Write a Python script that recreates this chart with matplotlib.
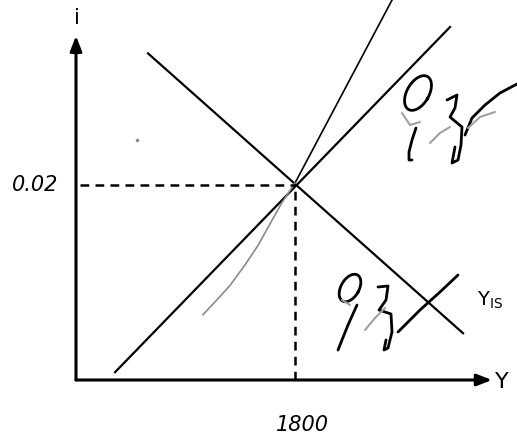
import numpy as np
import matplotlib
matplotlib.use("Agg")
from matplotlib import pyplot as plt

# equilibrium
Y_eq = 1800
i_eq = 0.02

# curves in (Y, i) units
is_Y = [592, 3181]
is_i = [0.0335, 0.0048]

lm_Y = [321, 3074]
lm_i = [0.0008, 0.0362]

steep_Y = [1800, 2620]
steep_i = [0.0202, 0.0395]

gray_Y = [1044, 1142, 1266, 1389, 1496, 1594, 1693, 1800]
gray_i = [0.0067, 0.0080, 0.0097, 0.0118, 0.0138, 0.0160, 0.0182, 0.0202]

Y_tip = 3419
i_tip = 0.0353

fig = plt.figure(figsize=(5.17, 4.36), dpi=100)
ax = fig.add_axes([0, 0, 1, 1])
ax.set_xlim(-624.7, 3624.7)
ax.set_ylim(-0.005744, 0.038974)
ax.axis("off")

# axes with arrows
ax.annotate("", xy=(Y_tip, 0), xytext=(0, 0),
            arrowprops=dict(arrowstyle="-|>,head_length=0.9,head_width=0.35", color="black", lw=2.2,
                            shrinkA=0, shrinkB=0))
ax.annotate("", xy=(0, i_tip), xytext=(0, 0),
            arrowprops=dict(arrowstyle="-|>,head_length=0.9,head_width=0.35", color="black", lw=2.2,
                            shrinkA=0, shrinkB=0))

ax.plot(is_Y, is_i, color="black", lw=1.6)
ax.plot(lm_Y, lm_i, color="black", lw=1.6)
ax.plot(steep_Y, steep_i, color="black", lw=1.2)
ax.plot(gray_Y, gray_i, color="#8a8a8a", lw=1.2)

ax.plot([30, Y_eq], [i_eq, i_eq], color="black", lw=1.8, ls=(0, (3.5, 2.5)))
ax.plot([Y_eq, Y_eq], [0, i_eq], color="black", lw=1.8, ls=(0, (3.5, 2.5)))

ax.plot([501], [0.0246], marker="o", ms=1.5, color="#888888")

ax.text(-148, i_eq, "0.02", ha="right", va="center", fontsize=15, style="italic")
ax.text(1860, -0.0046, "1800", ha="center", va="center", fontsize=15, style="italic")
ax.text(8, 0.0371, "i", ha="center", va="center", fontsize=15)
ax.text(3440, -0.0002, "Y", ha="left", va="center", fontsize=16)
ax.text(3300, 0.0082, r"Y$_{\mathrm{IS}}$", ha="left", va="center", fontsize=14)

# handwritten scribbles, drawn in image pixel space
ov = fig.add_axes([0, 0, 1, 1])
ov.set_xlim(0, 517)
ov.set_ylim(436, 0)
ov.axis("off")


def loop(cx, cy, a, b, ang):
    t = np.linspace(0, 2 * np.pi, 60)
    r = np.radians(ang)
    x = a * np.cos(t)
    y = b * np.sin(t)
    return cx + x * np.cos(r) - y * np.sin(r), cy + x * np.sin(r) + y * np.cos(r)


for cx, cy, a, b in [(418, 93, 11, 19), (350, 288, 9, 15)]:
    lx, ly = loop(cx, cy, a, b, 30)
    ov.plot(lx, ly, color="black", lw=2.0)

black_strokes = [
    [(416, 128), (412, 140), (409, 152), (409, 160), (412, 160)],
    [(447, 100), (457, 95), (455, 108), (450, 117), (462, 127), (461, 145), (458, 160), (452, 163), (455, 147)],
    [(465, 135), (472, 118), (485, 105), (500, 93), (517, 84)],
    [(357, 305), (348, 325), (338, 350)],
    [(378, 287), (388, 286), (386, 300), (379, 310), (391, 314), (392, 332), (388, 348), (384, 350), (386, 340)],
    [(398, 332), (420, 310), (440, 292), (458, 275)],
]
gray_strokes = [
    [(402, 113), (410, 125), (420, 122)],
    [(430, 143), (440, 133), (450, 127)],
    [(468, 128), (480, 117), (495, 112)],
    [(342, 300), (350, 305)],
    [(365, 330), (375, 318), (385, 308)],
]
for s in black_strokes:
    sx, sy = zip(*s)
    ov.plot(sx, sy, color="black", lw=2.0, solid_capstyle="round")
for s in gray_strokes:
    sx, sy = zip(*s)
    ov.plot(sx, sy, color="#a0a0a0", lw=1.5, solid_capstyle="round")

fig.savefig("out.png", dpi=100)
